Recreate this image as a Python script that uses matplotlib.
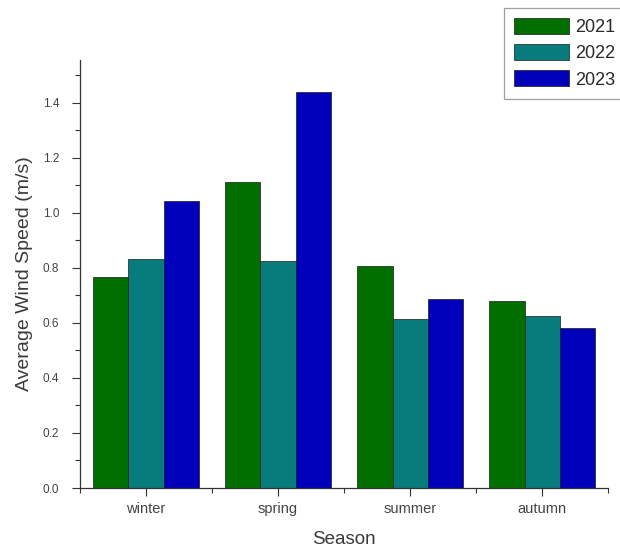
import numpy as np
import matplotlib
matplotlib.use("Agg")
import matplotlib.pyplot as plt
from matplotlib.ticker import MultipleLocator, FixedLocator, FormatStrFormatter

plt.rcParams['font.family'] = ['Liberation Sans', 'DejaVu Sans']

# Seasonal mean wind speed per year
seasons = ['winter', 'spring', 'summer', 'autumn']
years = ['2021', '2022', '2023']
speed_2021 = [0.765, 1.11, 0.805, 0.68]
speed_2022 = [0.832, 0.826, 0.615, 0.625]
speed_2023 = [1.044, 1.44, 0.687, 0.58]

colors = ['#006f00', '#087c7c', '#0000bb']
series = [speed_2021, speed_2022, speed_2023]

fig = plt.figure(figsize=(6.2, 5.51), dpi=100)
ax = fig.add_axes([0.129, 0.1143, 0.852, 0.777])

x = np.arange(1, len(seasons) + 1)
width = 0.8 / len(years)
for i, (vals, col, yr) in enumerate(zip(series, colors, years)):
    ax.bar(x - 0.4 + width * (i + 0.5), vals, width, color=col,
           edgecolor='#1a1a1a', linewidth=0.5, label=yr)

ax.set_xlim(0.5, 4.5)
ax.set_ylim(0, 1.555)

ax.set_xticks(x)
ax.set_xticklabels(seasons)
ax.xaxis.set_minor_locator(FixedLocator(np.arange(0.5, 4.6, 1.0)))
ax.yaxis.set_major_locator(MultipleLocator(0.2))
ax.yaxis.set_minor_locator(MultipleLocator(0.1))
ax.yaxis.set_major_formatter(FormatStrFormatter('%.1f'))

ax.tick_params(which='major', direction='out', length=6, width=0.8,
               colors='#333333', labelcolor='#444444')
ax.tick_params(axis='y', which='major', labelsize=8.5, pad=9)
ax.tick_params(axis='x', which='major', labelsize=10.5, pad=4)
ax.tick_params(which='minor', direction='out', length=3.5, width=0.8,
               colors='#333333')

for side in ['top', 'right']:
    ax.spines[side].set_visible(False)
for side in ['left', 'bottom']:
    ax.spines[side].set_color('#333333')
    ax.spines[side].set_linewidth(0.9)

ax.set_xlabel('Season', fontsize=13.5, color='#3a3a3a', labelpad=11)
ax.set_ylabel('Average Wind Speed (m/s)', fontsize=14, color='#3a3a3a',
              labelpad=7)

# legend sits against the top-right corner, frame running past the edge
leg = fig.legend(loc='upper left', bbox_to_anchor=(504 / 620, 1 - 8 / 551),
                 fontsize=13, frameon=True, fancybox=False,
                 edgecolor='#888888', handlelength=3.05, handleheight=0.98,
                 labelspacing=0.45, handletextpad=0.35, borderpad=0.55,
                 borderaxespad=0)
leg.get_frame().set_linewidth(0.9)
for t in leg.get_texts():
    t.set_color('#2a2a2a')

fig.savefig('out.png', dpi=100)
